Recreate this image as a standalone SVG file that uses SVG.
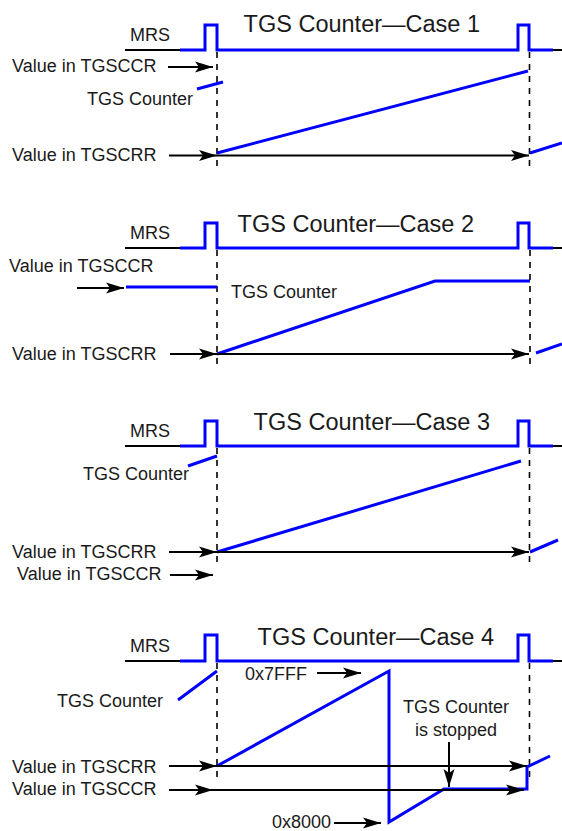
<svg xmlns="http://www.w3.org/2000/svg" width="562" height="831" viewBox="0 0 562 831">
<style>
text{font-family:"Liberation Sans",Arial,sans-serif;font-size:18px;fill:#1a1a1a}
.t{font-size:23.5px;text-anchor:end}
.c{text-anchor:middle}
.b{fill:none;stroke:#0000ff;stroke-width:3}
.k{fill:none;stroke:#000;stroke-width:2}
.d{fill:none;stroke:#000;stroke-width:1.6;stroke-dasharray:6 6}
.a{fill:none;stroke:#000;stroke-width:2;marker-end:url(#ah)}
</style>
<defs>
<marker id="ah" markerUnits="userSpaceOnUse" markerWidth="20" markerHeight="14" refX="18" refY="6" orient="auto">
<path d="M0,0.5 L18,6 L0,11.5 L4,6 z" fill="#000"/>
</marker>
</defs>

<g id="case1">
<text class="t" x="480" y="32">TGS Counter—Case 1</text>
<text x="130" y="41">MRS</text>
<text x="12" y="72">Value in TGSCCR</text>
<text x="87" y="105">TGS Counter</text>
<text x="12" y="161">Value in TGSCRR</text>
<path class="k" d="M125,50 H180 M553,50 H562"/>
<path class="b" d="M180,50 H205 V25 H217 V50 H518 V25 H529 V50 H553"/>
<path class="d" d="M217,52 V172 M529.5,52 V172"/>
<path class="b" d="M197,89 L223,82 M217,153 L528,71 M530,153 L562,143"/>
</g>

<g id="case2">
<text class="t" x="474" y="232">TGS Counter—Case 2</text>
<text x="130" y="239">MRS</text>
<text x="9" y="272">Value in TGSCCR</text>
<text x="231" y="298">TGS Counter</text>
<text x="12" y="360">Value in TGSCRR</text>
<path class="k" d="M125,248 H180 M553,248 H562"/>
<path class="b" d="M180,248 H205 V223 H217 V248 H518 V223 H529 V248 H553"/>
<path class="d" d="M217,250 V370 M530,250 V370"/>
<path class="b" d="M126,287 H217 M217,354 L435,281 H530 M536,353 L562,344"/>
</g>

<g id="case3">
<text class="t" x="490" y="430">TGS Counter—Case 3</text>
<text x="130" y="437">MRS</text>
<text x="83" y="480">TGS Counter</text>
<text x="12" y="558">Value in TGSCRR</text>
<text x="17" y="580">Value in TGSCCR</text>
<path class="k" d="M125,446 H180 M553,446 H562"/>
<path class="b" d="M180,446 H205 V421 H217 V446 H518 V421 H529 V446 H553"/>
<path class="d" d="M217,448 V568 M529.5,448 V568"/>
<path class="b" d="M188,466 L217,456 M217,552 L521,461 M530,552 L558,540"/>
</g>

<g id="case4">
<text class="t" x="494" y="645">TGS Counter—Case 4</text>
<text x="130" y="652">MRS</text>
<text x="57" y="707">TGS Counter</text>
<text x="245" y="680">0x7FFF</text>
<text class="c" x="456" y="713">TGS Counter</text>
<text class="c" x="456" y="736">is stopped</text>
<text x="12" y="773">Value in TGSCRR</text>
<text x="12" y="795">Value in TGSCCR</text>
<text x="272" y="828">0x8000</text>
<path class="k" d="M125,661 H180 M553,661 H562"/>
<path class="b" d="M180,661 H205 V635 H217 V661 H518 V635 H529 V661 H553"/>
<path class="d" d="M217,663 V783 M529.5,663 V783"/>
<path class="b" d="M178,700 L217,671 M217,766 L389,671 V822 L444,789 H527 V767 L550,756"/>
</g>

<g id="connectors">
<path class="a" d="M168,67 H213"/>
<path class="a" d="M169,155.5 H217"/>
<path class="a" d="M217,155.5 H529"/>
<path class="a" d="M77,288 H124"/>
<path class="a" d="M170,354 H217"/>
<path class="a" d="M217,354 H529"/>
<path class="a" d="M169,552 H217"/>
<path class="a" d="M217,552 H529"/>
<path class="a" d="M170,575 H213"/>
<path class="a" d="M317,673 H361"/>
<path class="a" d="M169,766 H217"/>
<path class="a" d="M217,766 H527"/>
<path class="a" d="M169,790 H213"/>
<path class="k" d="M213,790 H400"/>
<path class="a" d="M400,790 H524"/>
<path class="a" d="M334,823 H381"/>
<path class="a" d="M449,742 V787"/>
</g>
</svg>
